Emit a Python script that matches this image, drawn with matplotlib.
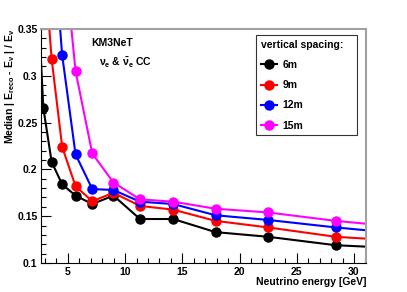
import numpy as np
import matplotlib
matplotlib.use("Agg")
import matplotlib.pyplot as plt
from matplotlib.ticker import MultipleLocator, FormatStrFormatter

plt.rcParams['font.family'] = ['Liberation Sans', 'DejaVu Sans']
plt.rcParams['font.weight'] = 'bold'
plt.rcParams['mathtext.fontset'] = 'custom'
plt.rcParams['mathtext.rm'] = 'Liberation Sans:bold'
plt.rcParams['mathtext.it'] = 'Liberation Sans:bold'
plt.rcParams['mathtext.bf'] = 'Liberation Sans:bold'

# bin centres [GeV] (first and last fall outside the shown range, lines run off the frame)
energy = [2.26, 2.85, 3.58, 4.5, 5.67, 7.13, 8.98, 11.3, 14.2, 17.9, 22.5, 28.4, 35.7]

# median |Ereco - Enu| / Enu for each vertical spacing
res_6m  = [0.412, 0.266, 0.208, 0.184, 0.172, 0.163, 0.172, 0.147, 0.147, 0.133, 0.128, 0.119, 0.1148]
res_9m  = [None, 0.435, 0.318, 0.224, 0.182, 0.166, 0.175, 0.161, 0.157, 0.145, 0.138, 0.128, 0.1225]
res_12m = [None, None, 0.467, 0.322, 0.216, 0.179, 0.178, 0.1655, 0.163, 0.151, 0.146, 0.138, 0.1297]
res_15m = [None, None, None, 0.45, 0.305, 0.217, 0.186, 0.168, 0.1655, 0.158, 0.154, 0.145, 0.1367]

series = [("6m", res_6m, "black"), ("9m", res_9m, "red"),
          ("12m", res_12m, "blue"), ("15m", res_15m, "magenta")]

fig = plt.figure(figsize=(4.07, 2.92), dpi=100)
ax = fig.add_axes([41/407, 1-263/292, 325/407, 234/292])

for name, vals, col in series:
    x = [e for e, v in zip(energy, vals) if v is not None]
    y = [v for v in vals if v is not None]
    ax.plot(x, y, '-o', color=col, lw=1.5, ms=6.5, label=name, clip_on=True)

ax.set_xlim(2.65, 31.05)
ax.set_ylim(0.1, 0.35)

ax.xaxis.set_major_locator(MultipleLocator(5))
ax.xaxis.set_minor_locator(MultipleLocator(1))
ax.yaxis.set_major_locator(MultipleLocator(0.05))
ax.yaxis.set_minor_locator(MultipleLocator(0.01))
ax.yaxis.set_major_formatter(FormatStrFormatter('%g'))
ax.tick_params(which='both', direction='in', top=False, right=False, labelsize=7.5, width=0.8)
ax.tick_params(which='major', length=7)
ax.tick_params(which='minor', length=3.5)
ax.tick_params(axis='x', pad=3)
ax.tick_params(axis='y', pad=2.5)
for s in ['top', 'right']:
    ax.spines[s].set_color('#a0a0a0')
    ax.spines[s].set_linewidth(1.5)

ax.text(0.155, 0.94, "KM3NeT", transform=ax.transAxes, fontsize=7.5, fontweight='bold', va='center')
ax.text(0.178, 0.855, r"$\nu_e$ & $\bar{\nu}_e$ CC", transform=ax.transAxes, fontsize=7.5, va='center')

fig.text(10/407, 1-29/292, r"Median | E$_{reco}$ - E$_{\nu}$ | / E$_{\nu}$", rotation=90,
         ha='center', va='top', fontsize=7.5, fontweight='bold')
fig.text(366/407, 1-282/292, "Neutrino energy [GeV]", ha='right', va='center', fontsize=7.5, fontweight='bold')

leg = ax.legend(title="vertical spacing:", loc='upper left', bbox_to_anchor=(0.6615, 0.974, 0.31, 0.0),
                mode='expand', fontsize=7.5, title_fontsize=7.5, frameon=True, fancybox=False,
                handlelength=1.6, handletextpad=0.5, labelspacing=0.98, borderpad=0.45, borderaxespad=0)
leg._legend_box.align = 'left'
leg.get_frame().set_edgecolor('black')
leg.get_frame().set_linewidth(0.8)
plt.setp(leg.get_title(), fontweight='bold')

fig.savefig("out.png", dpi=100)
